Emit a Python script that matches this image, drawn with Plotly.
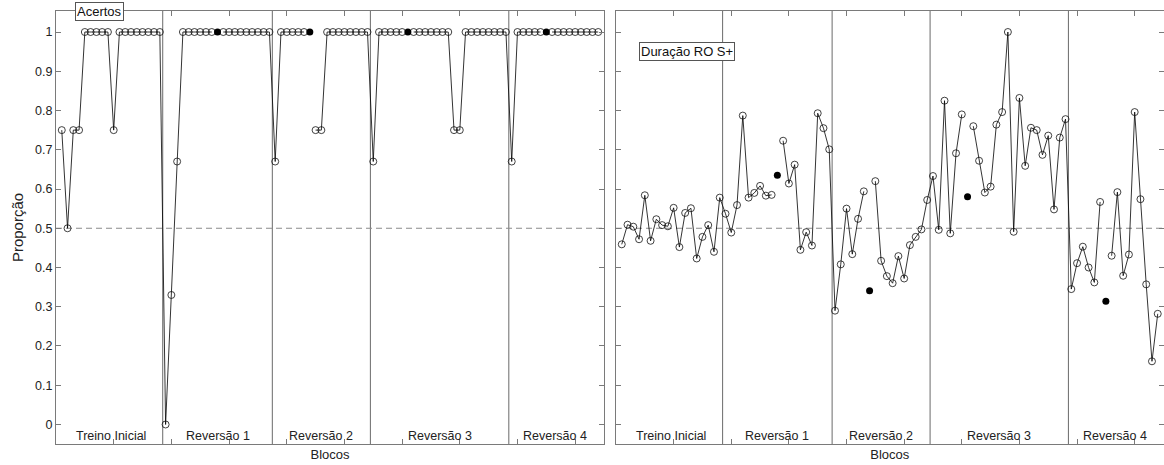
import plotly.graph_objects as go

# ---------------- data ----------------
block_names = ["Treino Inicial", "Reversão 1", "Reversão 2", "Reversão 3", "Reversão 4"]
block_sizes = [18, 19, 17, 24, 16]

# Acertos (None = position of the filled marker)
acertos = [0.75, 0.5, 0.75, 0.75, 1, 1, 1, 1, 1, 0.75, 1, 1, 1, 1, 1, 1, 1, 1,
           0, 0.33, 0.67, 1, 1, 1, 1, 1, 1, None, 1, 1, 1, 1, 1, 1, 1, 1, 1,
           0.67, 1, 1, 1, 1, 1, None, 0.75, 0.75, 1, 1, 1, 1, 1, 1, 1, 1,
           0.67, 1, 1, 1, 1, 1, None, 1, 1, 1, 1, 1, 1, 1, 0.75, 0.75, 1, 1, 1, 1, 1, 1, 1, 1,
           0.67, 1, 1, 1, 1, 1, None, 1, 1, 1, 1, 1, 1, 1, 1, 1]

# Duração RO S+
duracao = [0.459, 0.509, 0.504, 0.472, 0.584, 0.468, 0.523, 0.508, 0.505, 0.552, 0.452, 0.539,
           0.551, 0.423, 0.478, 0.508, 0.440, 0.578,
           0.537, 0.489, 0.559, 0.787, 0.578, 0.590, 0.608, 0.583, 0.585, None, 0.723, 0.614,
           0.662, 0.445, 0.490, 0.456, 0.793, 0.755, 0.701,
           0.290, 0.408, 0.550, 0.434, 0.524, 0.594, None, 0.620, 0.417, 0.378, 0.360, 0.429,
           0.372, 0.457, 0.478, 0.497, 0.572,
           0.633, 0.496, 0.825, 0.487, 0.691, 0.790, None, 0.760, 0.672, 0.591, 0.606, 0.764,
           0.796, 1.0, 0.491, 0.832, 0.659, 0.756, 0.750, 0.687, 0.736, 0.548, 0.731, 0.778,
           0.345, 0.411, 0.453, 0.400, 0.362, 0.567, None, 0.430, 0.592, 0.379, 0.433, 0.796,
           0.574, 0.357, 0.161, 0.282]

# filled markers
dot_blocos = [28, 44, 61, 85]
dot_acertos = [1, 1, 1, 1]
dot_duracao = [0.635, 0.341, 0.580, 0.314]

y_tickvals = [0, 0.1, 0.2, 0.3, 0.4, 0.5, 0.6, 0.7, 0.8, 0.9, 1]
y_ticktext = ["0", "0.1", "0.2", "0.3", "0.4", "0.5", "0.6", "0.7", "0.8", "0.9", "1"]
x_tickvals = [10, 20, 30, 40, 50, 60, 70, 80, 90]

# ---------------- figure ----------------
W, H = 1164, 465
FONT = "Liberation Sans, Arial, sans-serif"
x = list(range(1, len(acertos) + 1))

def px(v):
    return v / W

def py(v):
    return 1 - v / H

fig = go.Figure()

line_style = dict(color="black", width=0.8)
open_marker = dict(symbol="circle-open", size=7, color="#111", line=dict(width=0.8))
filled_marker = dict(symbol="circle", size=7, color="black")

fig.add_trace(go.Scatter(x=x, y=acertos, mode="lines+markers", line=line_style,
                         marker=open_marker, connectgaps=False, showlegend=False,
                         xaxis="x", yaxis="y", cliponaxis=False))
fig.add_trace(go.Scatter(x=dot_blocos, y=dot_acertos, mode="markers", marker=filled_marker,
                         showlegend=False, xaxis="x", yaxis="y"))
fig.add_trace(go.Scatter(x=x, y=duracao, mode="lines+markers", line=line_style,
                         marker=open_marker, connectgaps=False, showlegend=False,
                         xaxis="x2", yaxis="y2", cliponaxis=False))
fig.add_trace(go.Scatter(x=dot_blocos, y=dot_duracao, mode="markers", marker=filled_marker,
                         showlegend=False, xaxis="x2", yaxis="y2"))

ydom = [py(444), py(11)]
yrange = [-0.0497, 1.0535]
xrange = [0, 95]
axis_col = "#7a7a7a"

common_x = dict(range=xrange, tickvals=x_tickvals, showticklabels=False, ticks="inside",
                ticklen=5, tickcolor=axis_col, showline=True, linecolor=axis_col, linewidth=1,
                mirror="allticks", showgrid=False, zeroline=False, automargin=False,
                title=dict(text="Blocos", font=dict(family=FONT, size=13, color="#222"), standoff=5))
common_y = dict(range=yrange, tickvals=y_tickvals, ticktext=y_ticktext, ticks="inside",
                ticklen=5, tickcolor=axis_col, showline=True, linecolor=axis_col, linewidth=1,
                mirror="allticks", showgrid=False, zeroline=False, automargin=False,
                tickfont=dict(family=FONT, size=12.5, color="#222"), domain=ydom)

fig.update_layout(
    width=W, height=H,
    margin=dict(l=0, r=0, t=0, b=0, autoexpand=False),
    paper_bgcolor="white", plot_bgcolor="white",
    font=dict(family=FONT, color="#222"),
    xaxis=dict(common_x, domain=[px(56), px(604)], anchor="y"),
    yaxis=dict(common_y, anchor="x",
               title=dict(text="Proporção", font=dict(family=FONT, size=15, color="#222"), standoff=7)),
    xaxis2=dict(common_x, domain=[px(616), px(1163.5)], anchor="y2"),
    yaxis2=dict(common_y, anchor="x2", showticklabels=False),
)

# separators, dashed 0.5 line, block labels
bounds = []
s = 0
for n in block_sizes:
    bounds.append((s + 0.5, s + n + 0.5))
    s += n

shapes = []
annotations = []
for xr, yr in (("x", "y"), ("x2", "y2")):
    for b in bounds[:-1]:
        shapes.append(dict(type="line", xref=xr, yref=yr + " domain", x0=b[1], x1=b[1], y0=0, y1=1,
                           line=dict(color="#6a6a6a", width=1), layer="below"))
    shapes.append(dict(type="line", xref=xr + " domain", yref=yr, x0=0, x1=1, y0=0.5, y1=0.5,
                       line=dict(color="#8a8a8a", width=1, dash="6px,4px"), layer="below"))
    for name, b in zip(block_names, bounds):
        end = min(b[1], xrange[1])
        annotations.append(dict(x=(b[0] + end) / 2, y=py(436), xref=xr, yref="paper",
                                text=name, showarrow=False, xanchor="center", yanchor="middle",
                                font=dict(family=FONT, size=12.5, color="#222")))

annotations.append(dict(x=px(75), y=py(11), xref="paper", yref="paper", text="Acertos",
                        showarrow=False, xanchor="left", yanchor="middle",
                        bgcolor="white", bordercolor="#555", borderwidth=1, borderpad=1,
                        font=dict(family=FONT, size=13, color="#111")))
annotations.append(dict(x=px(639), y=py(52), xref="paper", yref="paper", text="Duração RO S+",
                        showarrow=False, xanchor="left", yanchor="middle",
                        bgcolor="white", bordercolor="#555", borderwidth=1, borderpad=1,
                        font=dict(family=FONT, size=13, color="#111")))

fig.update_layout(shapes=shapes, annotations=annotations)

fig.write_html("out.html", config={"displayModeBar": False},
               post_script="document.body.style.margin='0px';document.body.style.overflow='hidden';")
